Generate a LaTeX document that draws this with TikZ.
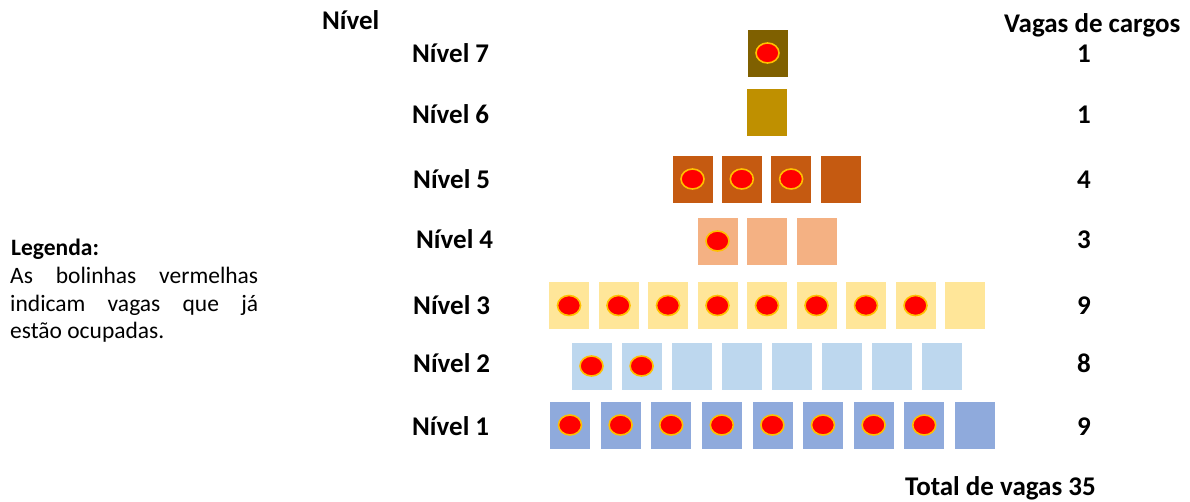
\documentclass[tikz,border=0pt]{standalone}
\usepackage{fontspec}
\setmainfont{Carlito}
\usetikzlibrary{shapes.geometric}

% cores de cada nivel
\definecolor{nivel1}{HTML}{8FAADC}
\definecolor{nivel2}{HTML}{BDD7EE}
\definecolor{nivel3}{HTML}{FFE699}
\definecolor{nivel4}{HTML}{F4B183}
\definecolor{nivel5}{HTML}{C55A11}
\definecolor{nivel6}{HTML}{BF9000}
\definecolor{nivel7}{HTML}{7F6000}
\definecolor{borda}{HTML}{FFC000}

\tikzset{
  vaga/.style={draw=white, line width=0.8pt, minimum width=41pt, minimum height=48pt, inner sep=0pt},
  ocupada/.style={ellipse, fill=red, draw=borda, line width=1.6pt, minimum width=23pt, minimum height=20pt, inner sep=0pt},
  rotulo/.style={font=\fontsize{27}{32}\selectfont\bfseries, inner sep=0pt},
  legenda/.style={font=\fontsize{23.5}{27.5}\selectfont, inner sep=0pt}
}

\begin{document}
\begin{tikzpicture}[x=1pt,y=-1pt]
  \useasboundingbox (0,0) rectangle (1190,502);

  % vagas: nivel / centro y / primeiro x / passo / total / ocupadas
  \foreach \lv/\yc/\xa/\dx/\n/\m in {7/53/767.5/0/1/1, 6/112.5/767/0/1/0, 5/179/692.5/49.3/4/3,
    4/241/717.5/49.5/3/1, 3/305.5/569/49.5/9/8, 2/366/591.5/50.1/8/2, 1/425/570/50.6/9/8}
  {
    \foreach \i in {1,...,\n}
    {
      \node[vaga, fill=nivel\lv] (v\lv-\i) at ({\xa+(\i-1)*\dx},\yc) {};
      \ifnum\i>\m\else
        \node[ocupada] (o\lv-\i) at (v\lv-\i) {};
      \fi
    }
  }

  % nomes dos niveis e numero de vagas
  \foreach \lv/\yb/\xl/\num in {7/63/412/1, 6/124/412/1, 5/189/413/4, 4/249/416/3,
    3/315/413/9, 2/372/413/8, 1/435/412/9}
  {
    \node[rotulo, anchor=base west] (n\lv) at (\xl,\yb) {Nível \lv};
    \node[rotulo, anchor=base] (q\lv) at (1084,\yb) {\num};
  }

  \node[rotulo, anchor=base west] (titNivel) at (322,30) {Nível};
  \node[rotulo, anchor=base west] (titVagas) at (1004,33) {Vagas de cargos};
  \node[rotulo, anchor=base west] (total) at (905,495) {Total de vagas 35};

  % legenda
  \node[legenda, anchor=base west, font=\fontsize{23.5}{27.5}\selectfont\bfseries] (leg) at (11,256) {Legenda:};
  \node[legenda, anchor=north west, text width=248pt, align=justify] (legTxt) at (10,267)
    {As bolinhas vermelhas\linebreak indicam vagas que já\linebreak estão ocupadas.};
\end{tikzpicture}
\end{document}
